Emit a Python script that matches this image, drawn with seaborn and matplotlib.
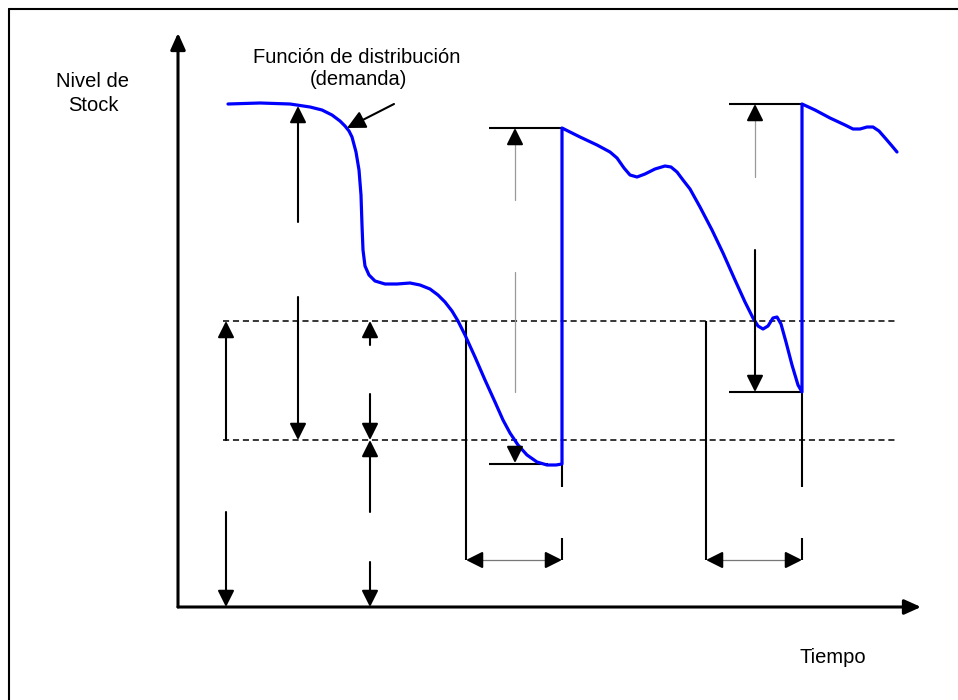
import numpy as np
import pandas as pd
import matplotlib
matplotlib.use("Agg")
import matplotlib.pyplot as plt
import seaborn as sns

# --- datos (coordenadas en pixeles, y hacia abajo) ---
# curva de stock: tramo 1 (consumo), reposicion, tramo 2, reposicion, tramo 3
stock_x = [228, 260, 290, 310, 322, 332, 340, 345, 349, 352, 356, 359, 361, 362, 363, 365, 369, 375,
           385, 397, 410, 420, 430, 438, 445, 452, 458, 465, 475, 485, 495, 503, 510, 518,
           527, 537, 547, 556, 562,
           562, 580, 597, 610, 617, 624, 630, 637, 645, 655, 665, 671, 677, 683, 690, 700, 712,
           723, 735, 745, 753, 758, 763, 768, 773, 777, 781, 786, 792, 798, 802,
           802, 815, 830, 845, 853, 860, 867, 873, 879, 886, 892, 897]
stock_y = [104, 103, 104, 107, 110, 115, 121, 126, 131, 137, 152, 170, 195, 225, 250, 266, 275, 281,
           284, 284, 283, 285, 289, 295, 302, 311, 321, 335, 357, 380, 402, 420, 433, 445,
           455, 462, 465, 465, 464,
           128, 137, 145, 152, 158, 168, 175, 177, 174, 169, 166, 167, 172, 180, 189, 207, 230,
           253, 280, 302, 318, 326, 329, 326, 318, 317, 324, 342, 365, 385, 392,
           104, 110, 118, 125, 129, 129, 127, 127, 131, 139, 146, 152]

# niveles de referencia (lineas discontinuas)
level_y = [321, 440]
level_x0, level_x1 = 223, 898

# flechas verticales negras: (x, desde, hasta)
black_arrows = [(298, 222, 106), (298, 297, 440), (226, 440, 321), (226, 512, 607),
                (370, 345, 321), (370, 394, 440), (370, 512, 440), (370, 562, 607),
                (755, 250, 392)]
# flechas con trazo gris y punta negra: (x, desde, hasta)
gray_arrows = [(515, 200, 128), (755, 177, 104)]
gray_lines = [(515, 272, 392)]
head_only = [(515, 447, 463)]

# plazos de entrega: (x inicio, x fin, y)
lead_times = [(466, 562, 560), (706, 802, 560)]

# segmentos negros: (x0, y0, x1, y1)
black_segments = [(489, 128, 562, 128), (489, 464, 548, 464),
                  (729, 104, 802, 104), (729, 392, 802, 392),
                  (466, 321, 466, 560), (706, 321, 706, 560),
                  (562, 464, 562, 487), (562, 538, 562, 560),
                  (802, 392, 802, 487), (802, 538, 802, 560)]

sns.set_style("white")
plt.rcParams['font.family'] = ['Liberation Sans', 'DejaVu Sans']
plt.rcParams['text.color'] = 'black'

fig = plt.figure(figsize=(9.58, 7), dpi=100)
ax = fig.add_axes([0, 0, 1, 1])

HEAD = "-|>,head_length=1.0,head_width=0.5"


def arrow(x0, y0, x1, y1, lw=1.5, style=HEAD, scale=10):
    ax.annotate("", xy=(x1, y1), xytext=(x0, y0),
                arrowprops=dict(arrowstyle=style, mutation_scale=scale, lw=lw,
                                color="black", shrinkA=0, shrinkB=0))


# curva de stock
df = pd.DataFrame({"t": stock_x, "nivel": stock_y})
sns.lineplot(data=df, x="t", y="nivel", sort=False, estimator=None,
             color="#0000ff", lw=2.3, ax=ax, zorder=3,
             solid_joinstyle="round", solid_capstyle="round")
ax.set_xlim(0, 958)
ax.set_ylim(700, 0)
ax.axis("off")

# marco
ax.plot([9.5, 958], [8.5, 8.5], color="black", lw=1.5)
ax.plot([9.5, 9.5], [8.5, 700], color="black", lw=1.5)

# ejes
arrow(178, 607, 178, 33, lw=2.2, style="-|>,head_length=1.0,head_width=0.45")
arrow(178, 607, 921, 607, lw=2.2, style="-|>,head_length=1.0,head_width=0.45")

# niveles
for y in level_y:
    ax.plot([level_x0, level_x1], [y, y], color="black", lw=1.1, ls=(0, (4, 2.5)))

# segmentos
for x0, y0, x1, y1 in black_segments:
    ax.plot([x0, x1], [y0, y1], color="black", lw=1.5, solid_capstyle="butt")

# flechas
for x, y0, y1 in black_arrows:
    arrow(x, y0, x, y1)
for x, y0, y1 in gray_arrows:
    ax.plot([x, x], [y0, y1 + 14], color="#999999", lw=0.9)
    arrow(x, y1 + 15, x, y1)
for x, y0, y1 in gray_lines:
    ax.plot([x, x], [y0, y1], color="#999999", lw=0.9)
for x, y0, y1 in head_only:
    arrow(x, y0, x, y1)
for x0, x1, y in lead_times:
    ax.plot([x0 + 14, x1 - 14], [y, y], color="#777777", lw=0.9)
    arrow(x0 + 15, y, x0, y)
    arrow(x1 - 15, y, x1, y)

# anotacion de la curva
arrow(394, 104, 347, 128, lw=1.5, style="-|>,head_length=1.1,head_width=0.55")

# textos
fs = 14.5
ax.text(357, 63, "Función de distribución", ha="center", va="baseline", fontsize=fs, color="black")
ax.text(358, 85, "(demanda)", ha="center", va="baseline", fontsize=fs, color="black")
ax.text(93, 87, "Nivel de", ha="center", va="baseline", fontsize=fs, color="black")
ax.text(93, 111, "Stock", ha="center", va="baseline", fontsize=fs, color="black")
ax.text(833, 663, "Tiempo", ha="center", va="baseline", fontsize=fs, color="black")

fig.savefig("out.png", dpi=100)
